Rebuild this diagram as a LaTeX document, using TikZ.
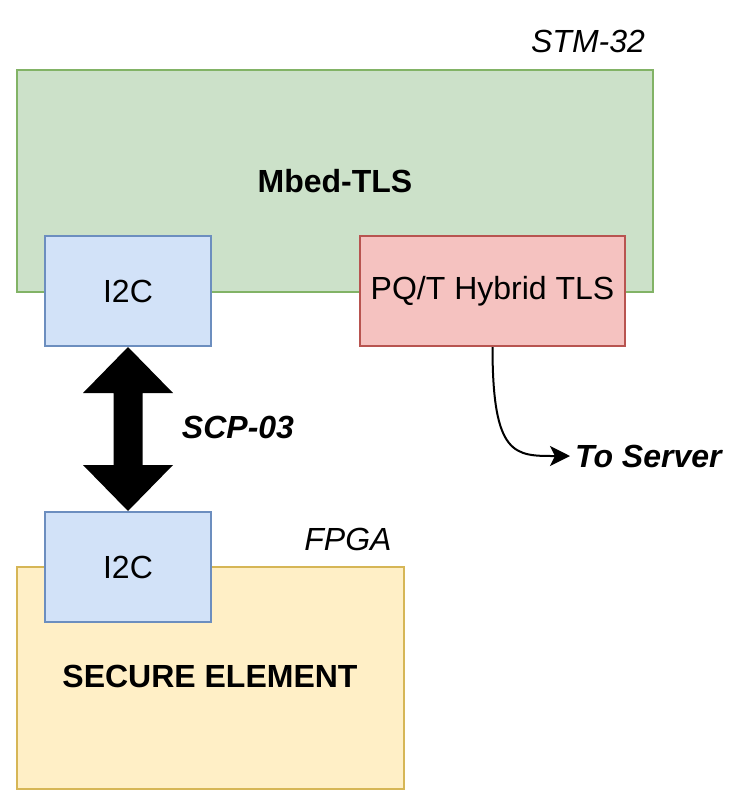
\documentclass[tikz,border=0pt]{standalone}
\usepackage{fontspec}
\setmainfont{Liberation Sans}
\usetikzlibrary{calc,arrows.meta}
\definecolor{gfill}{HTML}{CCE1C9}
\definecolor{gline}{HTML}{82B366}
\definecolor{bfill}{HTML}{D2E2F8}
\definecolor{bline}{HTML}{6C8EBF}
\definecolor{rfill}{HTML}{F5C2C0}
\definecolor{rline}{HTML}{B85450}
\definecolor{yfill}{HTML}{FFEFC6}
\definecolor{yline}{HTML}{D6B656}
\begin{document}
\begin{tikzpicture}[x=1pt,y=-1pt,
  txt/.style={font=\fontsize{32}{38}\selectfont, inner sep=0pt},
  box/.style={draw, line width=2pt, inner sep=0pt, font=\fontsize{32}{38}\selectfont},
  greenbox/.style={box, fill=gfill, draw=gline},
  bluebox/.style={box, fill=bfill, draw=bline, minimum width=166pt, minimum height=110pt},
  redbox/.style={box, fill=rfill, draw=rline},
  yellowbox/.style={box, fill=yfill, draw=yline},
  itl/.style={txt, font=\fontsize{32}{38}\selectfont\itshape},
  bitl/.style={txt, font=\fontsize{32}{38}\selectfont\bfseries\itshape}]
\useasboundingbox (0,0) rectangle (747,806);

% STM-32 board
\node[greenbox, minimum width=636pt, minimum height=222pt] (stm) at (335,181) {\textbf{Mbed-TLS}};
\node[itl] (stmlabel) at (588,41) {STM-32};
\node[bluebox] (i2ctop) at (128,291) {I2C};
\node[redbox, minimum width=265pt, minimum height=110pt] (pq) at (492.5,291) {PQ/T Hybrid TLS};

% FPGA board
\node[yellowbox, minimum width=387pt, minimum height=222pt] (se) at (210.5,678) {};
\node[txt, font=\fontsize{32}{38}\selectfont\bfseries] (selabel) at (210,676) {SECURE ELEMENT};
\node[itl] (fpga) at (348,539) {FPGA};
\node[bluebox] (i2cbot) at (128,567) {I2C};

% SCP-03 double block arrow
\fill[black]
  (i2ctop.south)
  -- ($(i2ctop.south)+(-45,46)$) -- ($(i2ctop.south)+(-14.5,46)$)
  -- ($(i2cbot.north)+(-14.5,-46)$) -- ($(i2cbot.north)+(-45,-46)$)
  -- (i2cbot.north)
  -- ($(i2cbot.north)+(45,-46)$) -- ($(i2cbot.north)+(14.5,-46)$)
  -- ($(i2ctop.south)+(14.5,46)$) -- ($(i2ctop.south)+(45,46)$)
  -- cycle;
\node[bitl] (scp) at (238,427) {SCP-03};

% To Server
\node[bitl, anchor=west, inner sep=5pt] (server) at (570,456) {To Server};
\draw[line width=2pt, -{Stealth[length=20pt,width=20pt,inset=5pt]}]
  (pq.south) .. controls ($(pq.south)+(0,110)$) and ($(server.west)+(-55,0)$) .. (server.west);
\end{tikzpicture}
\end{document}
